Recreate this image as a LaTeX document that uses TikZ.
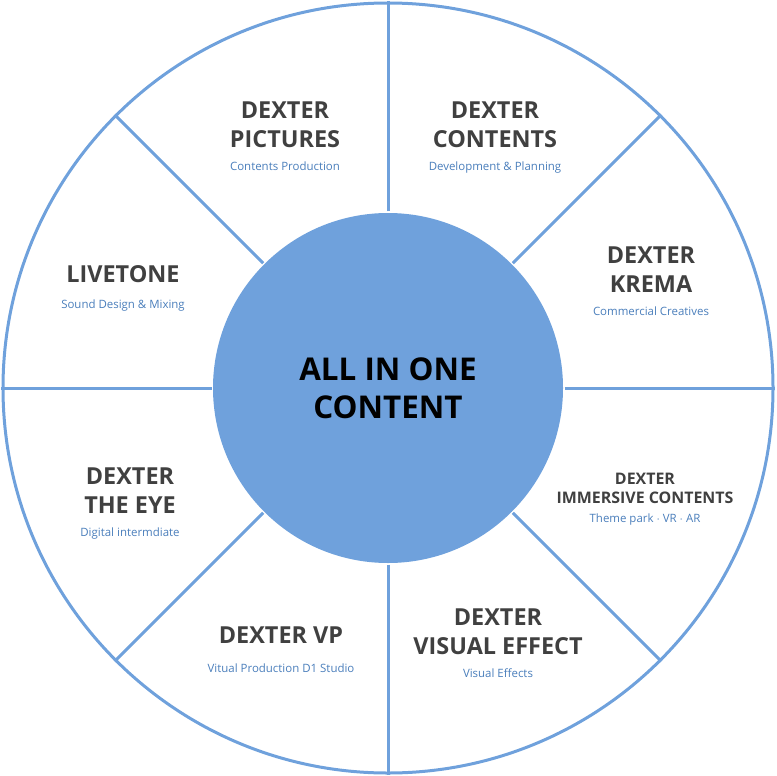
\documentclass[tikz,border=0pt]{standalone}
\usepackage{fontspec}
\setmainfont{Open Sans}
\usepackage{tikz}
\usetikzlibrary{positioning}
\definecolor{myblue}{RGB}{111,161,220}
\definecolor{mygray}{RGB}{64,64,64}
\definecolor{mysub}{RGB}{74,126,187}

\begin{document}
\begin{tikzpicture}[x=1bp, y=-1bp, line width=3bp,
    title/.style={text=mygray, font=\fontsize{23.5}{29}\selectfont\bfseries, align=center, inner sep=0pt},
    small/.style={text=mygray, font=\fontsize{16}{19}\selectfont\bfseries, align=center, inner sep=0pt},
    sub/.style={text=mysub, font=\fontsize{11.5}{14}\selectfont, inner sep=0pt}]
        \useasboundingbox (0,0) rectangle (776,776);
        \node[circle, draw=myblue, minimum size=770bp, inner sep=0pt] (outer) at (388,388) {};
        \node[circle, fill=myblue, minimum size=350bp, inner sep=0pt] (inner) at (388,388) {};
        \foreach \a in {0,45,...,315}
            \draw[myblue] (inner.\a) -- (outer.\a);
        \node[text=black, font=\fontsize{31.5}{38}\selectfont\bfseries, align=center] (all) at (388,388) {ALL IN ONE\\CONTENT};
        % top left
        \node[title] (pictures) at (285,125) {DEXTER\\PICTURES};
        \node[sub, below=11bp of pictures] {Contents Production};
        % top right
        \node[title] (contents) at (495,125) {DEXTER\\CONTENTS};
        \node[sub, below=11bp of contents] {Development \& Planning};
        % right
        \node[title] (krema) at (651,270) {DEXTER\\KREMA};
        \node[sub, below=11bp of krema] {Commercial Creatives};
        % left
        \node[title] (livetone) at (123,274) {LIVETONE};
        \node[sub, below=14bp of livetone] {Sound Design \& Mixing};
        % bottom right
        \node[small] (immersive) at (645,488) {DEXTER\\IMMERSIVE CONTENTS};
        \node[sub, below=8bp of immersive] {Theme park $\cdot$ VR $\cdot$ AR};
        \node[title] (visual) at (498,632) {DEXTER\\VISUAL EFFECT};
        \node[sub, below=11bp of visual] {Visual Effects};
        % bottom left
        \node[title] (vp) at (281,635) {DEXTER VP};
        \node[sub, below=17bp of vp] {Vitual Production D1 Studio};
        \node[title] (eye) at (130,491) {DEXTER\\THE EYE};
        \node[sub, below=11bp of eye] {Digital intermdiate};
  \end{tikzpicture}
\end{document}
